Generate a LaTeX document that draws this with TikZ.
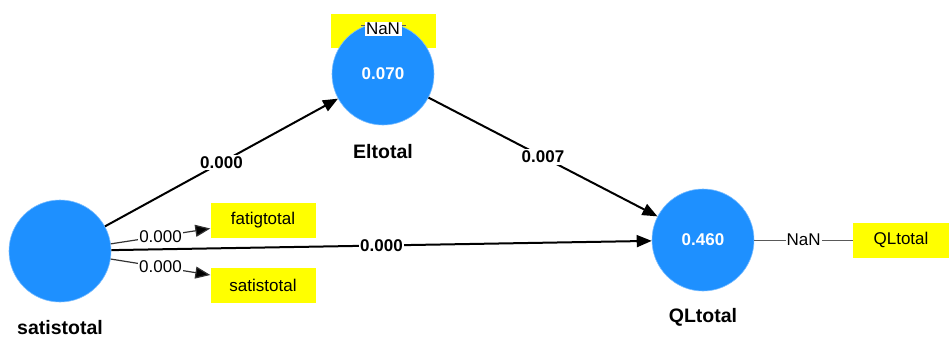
\documentclass[tikz,border=0pt]{standalone}
\usepackage{fontspec}
\setmainfont{Liberation Sans}
\usetikzlibrary{arrows.meta}
\definecolor{lvblue}{RGB}{30,144,255}
\definecolor{ind}{RGB}{255,255,0}
\tikzset{
  lv/.style={circle, fill=lvblue, draw=lvblue!60!white, line width=0.6pt, minimum size=102pt, inner sep=0pt, text=white, font=\fontsize{17}{20}\selectfont\bfseries},
  lvname/.style={font=\fontsize{19.5}{22}\selectfont\bfseries, inner sep=0pt},
  indbox/.style={fill=ind, minimum width=105pt, minimum height=35pt, inner sep=0pt, font=\fontsize{17}{20}\selectfont},
  path/.style={line width=2pt, -{Triangle[length=15pt,width=12pt]}},
  loadarr/.style={line width=1.2pt, draw=black!80, -{Triangle[length=15pt,width=12pt,fill=black]}},
  plab/.style={fill=white, inner sep=1.5pt, font=\fontsize{17}{20}\selectfont\bfseries},
  llab/.style={fill=white, inner sep=1pt, font=\fontsize{17}{20}\selectfont},
  thin/.style={line width=1pt, draw=black!65}
}
\begin{document}
\begin{tikzpicture}[x=1pt,y=-1pt]
\useasboundingbox (0,0) rectangle (950,338);
% indicator box of Eltotal (behind circle)
\node[indbox, minimum width=105pt, minimum height=34pt] (eb) at (383,31) {};
\draw[thin, line width=0.7pt] (361,25) -- (406,25);
% latent variables
\node[lv] (s) at (60,251) {};
\node[lv] (e) at (383,74) {0.070};
\node[lv] (q) at (703,240) {0.460};
\node[fill=white, inner sep=1.5pt, font=\fontsize{17}{20}\selectfont] (en) at (383,29) {NaN};
% names
\node[lvname] (sn) at (60,328) {satistotal};
\node[lvname] (eln) at (383,152) {Eltotal};
\node[lvname] (qn) at (703,317) {QLtotal};
% indicator boxes
\node[indbox] (fb) at (263,220.5) {fatigtotal};
\node[indbox] (sb) at (263,285) {satistotal};
\node[indbox, minimum width=96pt] (qb) at (901,240) {QLtotal};
% structural paths
\draw[path] (s) -- node[plab] {0.000} (e);
\draw[path] (e) -- node[plab] {0.007} (q);
\draw[path] (s) -- node[plab] {0.000} (q);
% loadings
\draw[loadarr] (s.8.6) -- node[llab] {0.000} ([yshift=-8pt]fb.west);
\draw[loadarr] (s.-9.7) -- node[llab] {0.000} ([yshift=10pt]sb.west);
\draw[thin] (q.east) -- node[llab] {NaN} (qb.west);
\end{tikzpicture}
\end{document}
